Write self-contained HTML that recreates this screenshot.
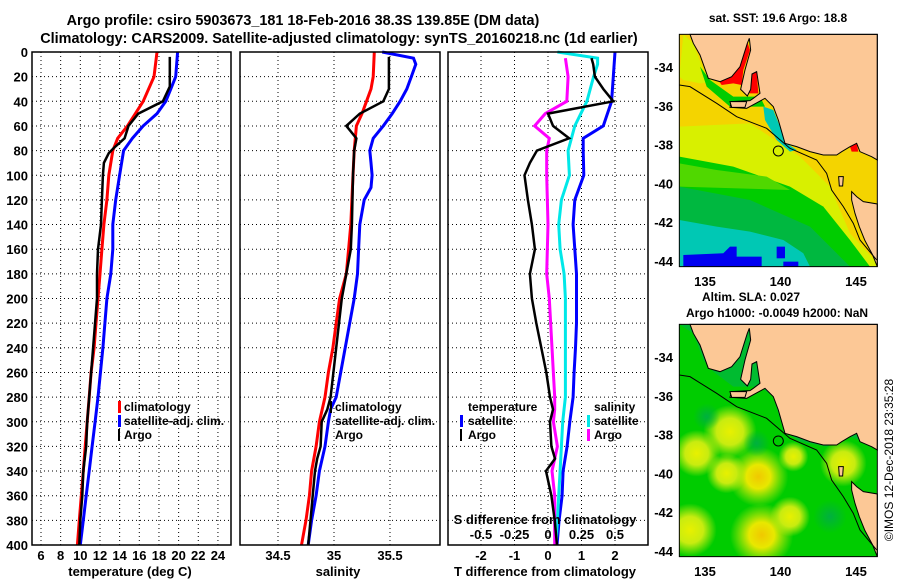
<!DOCTYPE html>
<html><head><meta charset="utf-8"><style>
body{margin:0;background:#fff;}
svg{display:block;font-family:"Liberation Sans",Arial,sans-serif;font-weight:bold;}
</style></head><body>
<svg id="s" width="900" height="580" viewBox="0 0 900 580" xmlns="http://www.w3.org/2000/svg">
<text x="303" y="25" font-size="14.4" text-anchor="middle">Argo profile: csiro 5903673_181 18-Feb-2016 38.3S 139.85E (DM data)</text>
<text x="339" y="43" font-size="14.4" text-anchor="middle">Climatology: CARS2009. Satellite-adjusted climatology: synTS_20160218.nc (1d earlier)</text>

<defs>
<clipPath id="cm1"><rect x="88" y="103" width="594" height="697"/></clipPath>
<radialGradient id="yb"><stop offset="0" stop-color="#E8F000"/><stop offset="0.5" stop-color="#C8EC10"/><stop offset="1" stop-color="#C8EC10" stop-opacity="0"/></radialGradient>
<radialGradient id="ob"><stop offset="0" stop-color="#F0C800"/><stop offset="0.4" stop-color="#E8E800"/><stop offset="1" stop-color="#C8EC10" stop-opacity="0"/></radialGradient>
<radialGradient id="gb"><stop offset="0" stop-color="#00B040"/><stop offset="1" stop-color="#00B040" stop-opacity="0"/></radialGradient>
<g id="landshapes">
 <polygon points="120,103 130,130 150,165 175,235 210,245 245,230 270,200 292,130 298,115 302,150 285,210 272,268 292,288 302,268 306,222 320,215 330,280 310,295 300,302 245,305 240,322 290,325 345,295 370,320 385,360 405,430 440,440 480,455 520,465 560,465 575,455 600,440 620,430 630,455 665,470 682,480 682,103" fill="#FCC896" stroke="#000" stroke-width="3"/>
 <polygon points="605,575 620,590 640,605 682,612 682,800 668,765 645,722 628,680 615,640 605,600" fill="#FCC896" stroke="#000" stroke-width="3"/>
 <polygon points="240,305 290,305 285,322 245,322" fill="#FCC896" stroke="#000" stroke-width="3"/>
 <polygon points="566,530 580,530 578,558 568,558" fill="#FCC896" stroke="#000" stroke-width="3"/>
 <polyline points="88,255 120,260 200,310 260,350 350,385 420,445 500,480 530,520 545,570 580,620 610,670 630,720 680,780" fill="none" stroke="#000" stroke-width="3"/>
 <circle cx="385" cy="453" r="15" fill="none" stroke="#000" stroke-width="3"/>
 <rect x="88" y="103" width="594" height="697" fill="none" stroke="#000" stroke-width="3"/>
</g>
</defs>
<g transform="translate(650,0) scale(0.3333)">
 <g clip-path="url(#cm1)">
  <rect x="88" y="103" width="594" height="697" fill="#F4D400"/>
  <polygon points="88,380 300,370 450,470 540,560 600,700 682,790 682,800 88,800" fill="#D8F000"/>
  <polygon points="88,470 250,500 420,560 520,620 600,720 660,800 88,800" fill="#00CC00"/>
  <polygon points="88,490 200,510 350,530 420,570 88,560" fill="#50D800"/>
  <polygon points="88,560 300,600 480,680 560,760 600,800 88,800" fill="#00B840"/>
  <polygon points="88,660 200,680 300,695 400,720 460,760 480,800 88,800" fill="#00C8B4"/>
  <polygon points="100,765 220,760 240,740 260,740 260,800 100,800" fill="#0000F0"/>
  <rect x="215" y="770" width="120" height="30" fill="#0000F0"/>
  <rect x="380" y="740" width="25" height="35" fill="#0000F0"/>
  <rect x="400" y="785" width="45" height="15" fill="#0000F0"/>
  <polygon points="100,103 130,130 160,210 190,245 150,250 100,240 88,230" fill="#D8F000"/>
  <polygon points="340,320 370,330 410,430 440,450 420,455 380,420 345,360" fill="#00C8B4"/>
  <polygon points="150,200 180,240 250,290 330,290 345,320 300,320 240,320 170,260" fill="#00CC00"/>
  <polygon points="205,240 230,190 265,160 290,120 300,150 280,210 275,255 250,250 215,255" fill="#FF0000"/>
  <polygon points="270,270 290,240 305,220 320,215 325,280 300,280" fill="#FF0000"/>
  <polygon points="600,440 620,430 625,455 605,455" fill="#FF0000"/>
 </g>
 <use href="#landshapes"/>
</g>
<g transform="translate(650,290) scale(0.3333)">
 <g clip-path="url(#cm1)">
  <rect x="88" y="103" width="594" height="697" fill="#00CC00"/>
  <circle cx="240" cy="425" r="80" fill="url(#yb)"/>
  <circle cx="325" cy="560" r="90" fill="url(#ob)"/>
  <circle cx="335" cy="735" r="95" fill="url(#ob)"/>
  <circle cx="140" cy="490" r="70" fill="url(#yb)"/>
  <circle cx="230" cy="550" r="60" fill="url(#yb)"/>
  <circle cx="430" cy="500" r="45" fill="url(#yb)"/>
  <circle cx="120" cy="720" r="80" fill="url(#yb)"/>
  <circle cx="420" cy="680" r="60" fill="url(#yb)"/>
  <circle cx="580" cy="520" r="70" fill="url(#yb)"/>
  <circle cx="320" cy="460" r="40" fill="url(#gb)"/>
  <circle cx="540" cy="680" r="50" fill="url(#gb)"/>
  <circle cx="170" cy="380" r="40" fill="url(#gb)"/>
  <polygon points="88,103 130,130 160,210 190,245 250,290 330,290 370,320 400,420 450,455 530,470 600,440 682,470 682,103" fill="#00BB30"/>
 </g>
 <use href="#landshapes"/>
</g>

<text x="778" y="22" font-size="12" text-anchor="middle">sat. SST: 19.6 Argo: 18.8</text>
<text x="751" y="301" font-size="12" text-anchor="middle">Altim. SLA: 0.027</text>
<text x="777" y="317" font-size="12" text-anchor="middle">Argo h1000: -0.0049 h2000: NaN</text>
<text transform="translate(893,460) rotate(-90)" font-size="12" font-weight="normal" text-anchor="middle">©IMOS 12-Dec-2018 23:35:28</text>

<script>
// ---------- data ----------
const depthTicks=[0,20,40,60,80,100,120,140,160,180,200,220,240,260,280,300,320,340,360,380,400];
const tempTicks=[6,8,10,12,14,16,18,20,22,24];
const salTicks=[34.5,35,35.5];
const tdiffTicks=[-2,-1,0,1,2];
const sdiffTicks=[-0.5,-0.25,0,0.25,0.5];
const tdiffTickLabels=["-2","-1","0","1","2"];
const sdiffTickLabels=["-0.5","-0.25","0","0.25","0.5"];

const climTDepth=[0,20,40,50,60,70,80,100,120,140,160,180,200,220,240,260,280,300,320,340,360,380,400];
const climT=[17.8,17.5,16.4,15.6,14.8,13.8,13.3,12.9,12.7,12.4,12.2,12.0,11.8,11.6,11.4,11.1,10.9,10.7,10.5,10.3,10.1,9.9,9.7];
const satTDepth=[0,20,30,40,50,60,70,80,100,120,140,160,180,200,240,280,300,320,340,360,380,400];
const satT=[19.9,19.7,19.2,18.7,17.8,16.4,15.3,14.4,14.0,13.6,13.3,13.3,13.1,12.7,12.3,11.8,11.5,11.2,10.9,10.6,10.3,10.0];
const argoDepth=[4,28,40,50,60,70,78,82,90,100,120,140,160,180,200,240,280,300,320,340,360,380,400];
const argoT=[19.1,19.1,18.4,15.9,14.9,14.5,13.4,12.9,12.4,12.3,12.2,12.1,11.8,11.7,11.7,11.3,10.9,10.7,10.6,10.3,10.2,10.0,9.9];

const climSDepth=[0,20,30,40,50,60,80,100,120,140,160,180,200,220,240,260,280,300,320,340,360,380,400];
const climS=[35.36,35.35,35.33,35.29,35.25,35.2,35.18,35.17,35.16,35.15,35.13,35.11,35.05,35.02,34.99,34.95,34.92,34.87,34.84,34.8,34.78,34.75,34.71];
const satSDepth=[0,5,10,20,30,40,50,60,70,80,90,100,110,120,140,160,180,200,240,280,290,300,320,340,360,380,400];
const satS=[35.43,35.71,35.73,35.69,35.65,35.59,35.52,35.44,35.35,35.32,35.33,35.34,35.33,35.27,35.23,35.22,35.21,35.18,35.1,35.02,34.97,34.95,34.92,34.87,34.84,34.8,34.77];
const argoSDepth=[4,30,40,50,60,70,80,100,140,160,180,200,240,280,290,300,320,330,340,360,380,400];
const argoS=[35.49,35.49,35.44,35.23,35.11,35.2,35.18,35.17,35.16,35.15,35.11,35.07,35.02,34.97,34.94,34.89,34.88,34.85,34.83,34.81,34.79,34.77];

const dTDepth=[0,20,40,60,70,80,100,120,140,160,180,200,220,240,260,280,300,320,340,360,380,400];
const satTdiff=[2.0,1.95,1.9,1.65,1.05,1.05,1.07,0.8,0.75,0.8,0.85,0.85,0.85,0.82,0.78,0.75,0.65,0.57,0.45,0.42,0.33,0.27];
const dSDepth=[0,5,10,20,40,60,80,100,120,140,160,180,200,280,300,320,340,360,380,400];
const satSdiff=[0.07,0.37,0.37,0.34,0.29,0.2,0.15,0.16,0.1,0.08,0.09,0.12,0.13,0.13,0.11,0.1,0.09,0.08,0.07,0.06];
const argoSdDepth=[5,20,40,50,60,70,80,100,140,180,200,280,290,300,320,340,360,380,400];
const argoSdiff=[0.13,0.15,0.14,-0.02,-0.1,0.01,-0.01,-0.01,0,-0.01,0.01,0.05,0.05,0.04,0.07,0.03,0.05,0.05,0.05];
const argoTdDepth=[5,10,20,30,40,50,60,70,80,90,100,120,140,160,180,200,220,240,260,280,290,300,320,330,340,360,380,400];
const argoTdiff=[1.3,1.35,1.4,1.65,1.95,0,0.15,0.63,-0.33,-0.54,-0.7,-0.6,-0.48,-0.39,-0.54,-0.48,-0.35,-0.2,-0.05,0.06,0.15,0.06,0.1,0.21,-0.06,0.1,0.2,0.27];

// ---------- axes ----------
const NS="http://www.w3.org/2000/svg";
const svg=document.getElementById('s');
const yD=d=>52+d*1.2325;
const xT=t=>41+(t-6)*9.83;
const xS=s=>334+(s-35)*112;
const xTd=t=>548+t*33.5;
const xSd=s=>548+s*134;
function el(tag,attrs,parent){const e=document.createElementNS(NS,tag);for(const k in attrs)e.setAttribute(k,attrs[k]);(parent||svg).appendChild(e);return e;}
function txt(x,y,s,size,anchor,parent){const t=el('text',{x:x,y:y,'font-size':size,'text-anchor':anchor},parent);t.textContent=s;return t;}

const panels=[{x0:32,x1:231,name:'temperature-panel'},{x0:240,x1:440,name:'salinity-panel'},{x0:448,x1:648,name:'difference-panel'}];
panels.forEach((p,i)=>{
  const g=el('g',{});
  
  
  p.g=g;
  depthTicks.forEach(d=>{
    if(d>0&&d<400){const l=el('line',{x1:p.x0,x2:p.x1,y1:yD(d),y2:yD(d),stroke:'#000','stroke-width':1,'stroke-dasharray':'1,3'},g);
    
    }
  });
});
function vgrid(p,vals,fx){vals.forEach(v=>{const l=el('line',{x1:fx(v),x2:fx(v),y1:52,y2:545,stroke:'#000','stroke-width':1,'stroke-dasharray':'1,3'},p.g);
  
  });}
vgrid(panels[0],tempTicks,xT);vgrid(panels[1],salTicks,xS);vgrid(panels[2],tdiffTicks,xTd);

depthTicks.forEach(d=>{const t=txt(28,yD(d)+5,String(d),13,'end');
  
  });
tempTicks.forEach(v=>{const t=txt(xT(v),560,String(v),13,'middle');
  
  });
salTicks.forEach(v=>{const t=txt(xS(v),560,String(v),13,'middle');
  
  });
tdiffTicks.forEach((v,i)=>{const t=txt(xTd(v),560,tdiffTickLabels[i],13,'middle');
  
  });
sdiffTicks.forEach((v,i)=>{const t=txt(xSd(v),539,sdiffTickLabels[i],13,'middle');
  
  });

function line(p,xs,ds,fx,color,w,name){
  const pts=xs.map((v,i)=>fx(v).toFixed(1)+','+yD(ds[i]).toFixed(1)).join(' ');
  const l=el('polyline',{points:pts,fill:'none',stroke:color,'stroke-width':w,'stroke-linejoin':'miter'},p.g);
  
  
}
line(panels[0],climT,climTDepth,xT,'#FF0000',3,'climatology-temperature-line');
line(panels[0],satT,satTDepth,xT,'#0000FF',3,'satellite-temperature-line');
line(panels[0],argoT,argoDepth,xT,'#000',2.5,'argo-temperature-line');
line(panels[1],climS,climSDepth,xS,'#FF0000',3,'climatology-salinity-line');
line(panels[1],satS,satSDepth,xS,'#0000FF',3,'satellite-salinity-line');
line(panels[1],argoS,argoSDepth,xS,'#000',2.5,'argo-salinity-line');
line(panels[2],satTdiff,dTDepth,xTd,'#0000FF',3,'satellite-t-difference-line');
line(panels[2],satSdiff,dSDepth,xSd,'#00E8E8',3,'satellite-s-difference-line');
line(panels[2],argoSdiff,argoSdDepth,xSd,'#FF00FF',3,'argo-s-difference-line');
line(panels[2],argoTdiff,argoTdDepth,xTd,'#000',2.5,'argo-t-difference-line');

panels.forEach(p=>{const r=el('rect',{x:p.x0,y:52,width:p.x1-p.x0,height:493,fill:'none',stroke:'#000','stroke-width':1.5},p.g);
  
  });

const latTicks=[-34,-36,-38,-40,-42,-44];
const lonTicks=[135,140,145];
const yLat1=l=>67+(-34-l)*19.4;
const xLon=l=>705+(l-135)*15.1;
[0,290].forEach(dy=>{
  latTicks.forEach(l=>{const t=txt(673,yLat1(l)+dy+5,String(l),13,'end');
    
    });
  lonTicks.forEach(l=>{const t=txt(xLon(l),dy+286,String(l),13,'middle');
    
    });
});
</script>

<text x="130" y="576" font-size="13" text-anchor="middle">temperature (deg C)</text>
<text x="338" y="576" font-size="13" text-anchor="middle">salinity</text>
<text x="545" y="576" font-size="13" text-anchor="middle">T difference from climatology</text>
<text x="545" y="524" font-size="13" text-anchor="middle">S difference from climatology</text>

<g font-size="12">
 <rect x="118" y="401" width="3" height="12" fill="#FF0000"/>
 <text x="124" y="411">climatology</text>
 <rect x="118" y="415" width="3" height="12" fill="#0000FF"/>
 <text x="124" y="425">satellite-adj. clim.</text>
 <rect x="118" y="429" width="2" height="12" fill="#000"/>
 <text x="124" y="439">Argo</text>
</g>
<g font-size="12">
 <rect x="330" y="401" width="2" height="12" fill="#000"/>
 <text x="335" y="411">climatology</text>
 <text x="335" y="425">satellite-adj. clim.</text>
 <text x="335" y="439">Argo</text>
</g>
<g font-size="12">
 <text x="468" y="411">temperature</text>
 <rect x="460" y="415" width="3" height="12" fill="#0000FF"/>
 <text x="468" y="425">satellite</text>
 <rect x="460" y="429" width="2" height="12" fill="#000"/>
 <text x="468" y="439">Argo</text>
 <text x="594" y="411">salinity</text>
 <rect x="587" y="415" width="3" height="12" fill="#00E8E8"/>
 <text x="594" y="425">satellite</text>
 <rect x="587" y="429" width="3" height="12" fill="#FF00FF"/>
 <text x="594" y="439">Argo</text>
</g>
</svg>
</body></html>
